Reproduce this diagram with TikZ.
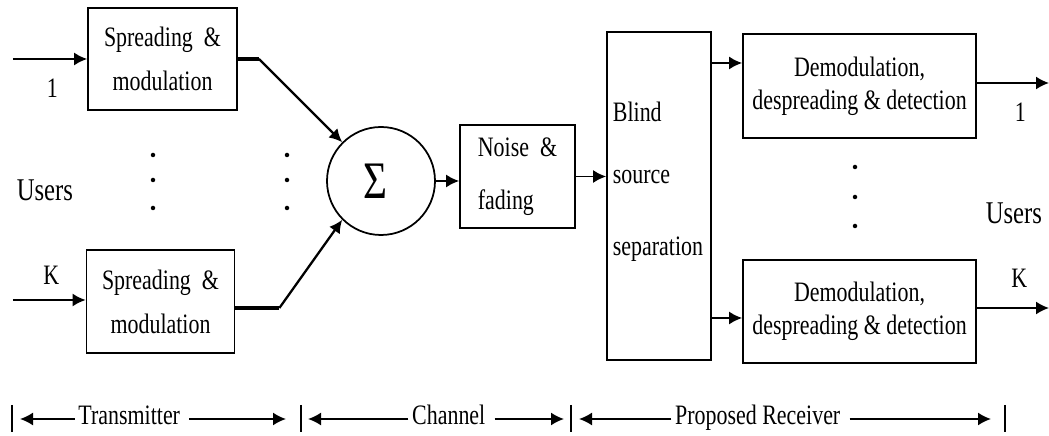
\documentclass[tikz,border=0pt]{standalone}
\usepackage{fontspec}
\setmainfont{Liberation Serif}[FakeStretch=0.78]
\usepackage{tikz}
\usetikzlibrary{positioning,arrows.meta}

\begin{document}
\begin{tikzpicture}[every node/.style = { align = center, font = \fontsize{16}{19}\selectfont },
    block/.style = { draw, line width = 1pt, inner sep = 0pt },
    conn/.style = { line width = 1pt, -{Latex[length=2.6mm,width=2.6mm]} },
    feed/.style = { line width = 1.3pt, -{Latex[length=2.6mm,width=2.6mm]} },
    thickline/.style = { line width = 1.9pt },
    users/.style = { font = \fontsize{18}{20}\selectfont }]
    \useasboundingbox (0,0) rectangle (20.98,8.72);

    \node [block, minimum width = 2.98cm, minimum height = 2.04cm] (s1) at (3.25,7.54) { Spreading~~\&\\[6pt]modulation };
    \node [block, minimum width = 2.96cm, minimum height = 2.06cm] (sK) at (3.21,2.69) { Spreading~~\&\\[6pt]modulation };
    \node [block, circle, minimum size = 2.16cm] (sum) at (7.62,5.10) { \fontsize{30}{30}\selectfont Σ };
    \node [block, minimum width = 2.30cm, minimum height = 2.06cm, align = left] (noise) at (10.35,5.19) { Noise~~\&\\[11pt]fading };
    \node [block, minimum width = 2.08cm, minimum height = 6.56cm] (bss) at (13.18,4.80) {};
    \node [align = left] (bsstext) at (13.16,5.08) { Blind\\[16pt]source\\[22pt]separation };
    \node [block, minimum width = 4.66cm, minimum height = 2.08cm] (d1) at (17.19,7.00) { Demodulation,\\despreading \& detection };
    \node [block, minimum width = 4.66cm, minimum height = 2.06cm] (dK) at (17.19,2.49) { Demodulation,\\despreading \& detection };

    \coordinate (u1) at (0.26,7.54);
    \coordinate (uK) at (0.26,2.72);
    \coordinate (v1) at (20.98,7.06);
    \coordinate (vK) at (20.98,2.56);

    \draw [conn] (u1) -- (s1.west);
    \draw [conn] (uK) -- (uK -| sK.west);
    \node (in1) at (1.10,6.96) { 1 };
    \node (inK) at (1.08,3.22) { K };
    \node [users] (usl) at (0.96,4.92) { Users };

    \draw [thickline] (s1.east) -- ++(0.42,0) coordinate (b1);
    \draw [feed] (b1) -- (sum.135);
    \draw [thickline] ([yshift=-0.13cm]sK.east) -- ++(0.88,0) coordinate (bK);
    \draw [feed] (bK) -- (sum.225);

    \draw [conn] (sum.east) -- (sum.east -| noise.west);
    \draw [conn] (noise.east) -- (noise.east -| bss.west);
    \draw [conn] ([yshift=0.46cm]d1.west -| bss.east) -- ([yshift=0.46cm]d1.west);
    \draw [conn] ([yshift=-0.13cm]dK.west -| bss.east) -- ([yshift=-0.13cm]dK.west);

    \draw [conn] (v1 -| d1.east) -- (v1);
    \draw [conn] (vK -| dK.east) -- (vK);
    \node (out1) at (20.46,6.48) { 1 };
    \node (outK) at (20.44,3.16) { K };
    \node [users] (usr) at (20.34,4.46) { Users };

    \foreach \x in {3.06,5.74} {
      \foreach \y in {5.62,5.12,4.56} { \fill (\x,\y) circle (0.045); } }
    \foreach \y in {5.38,4.78,4.20} { \fill (17.10,\y) circle (0.045); }

    \coordinate (t0) at (0.24,0.34);
    \coordinate (t1) at (6.02,0.34);
    \coordinate (t2) at (11.42,0.34);
    \coordinate (t3) at (20.10,0.34);
    \foreach \b in {t0,t1,t2,t3} { \draw [line width = 1pt] ([yshift=0.28cm]\b) -- ([yshift=-0.26cm]\b); }

    \node [anchor = base, inner sep = 2pt] (tx) at (2.64,0.22) { Transmitter };
    \node [anchor = base, inner sep = 2pt] (ch) at (9.03,0.22) { Channel };
    \node [anchor = base, inner sep = 2pt] (rx) at (15.21,0.22) { Proposed Receiver };
    \draw [conn] (tx.west |- t0) -- ([xshift=0.16cm]t0);
    \draw [conn] (tx.east |- t0) -- ([xshift=-0.30cm]t1);
    \draw [conn] (ch.west |- t1) -- ([xshift=0.14cm]t1);
    \draw [conn] (ch.east |- t1) -- ([xshift=-0.14cm]t2);
    \draw [conn] (rx.west |- t2) -- ([xshift=0.16cm]t2);
    \draw [conn] (rx.east |- t2) -- ([xshift=-0.28cm]t3);
\end{tikzpicture}
\end{document}
